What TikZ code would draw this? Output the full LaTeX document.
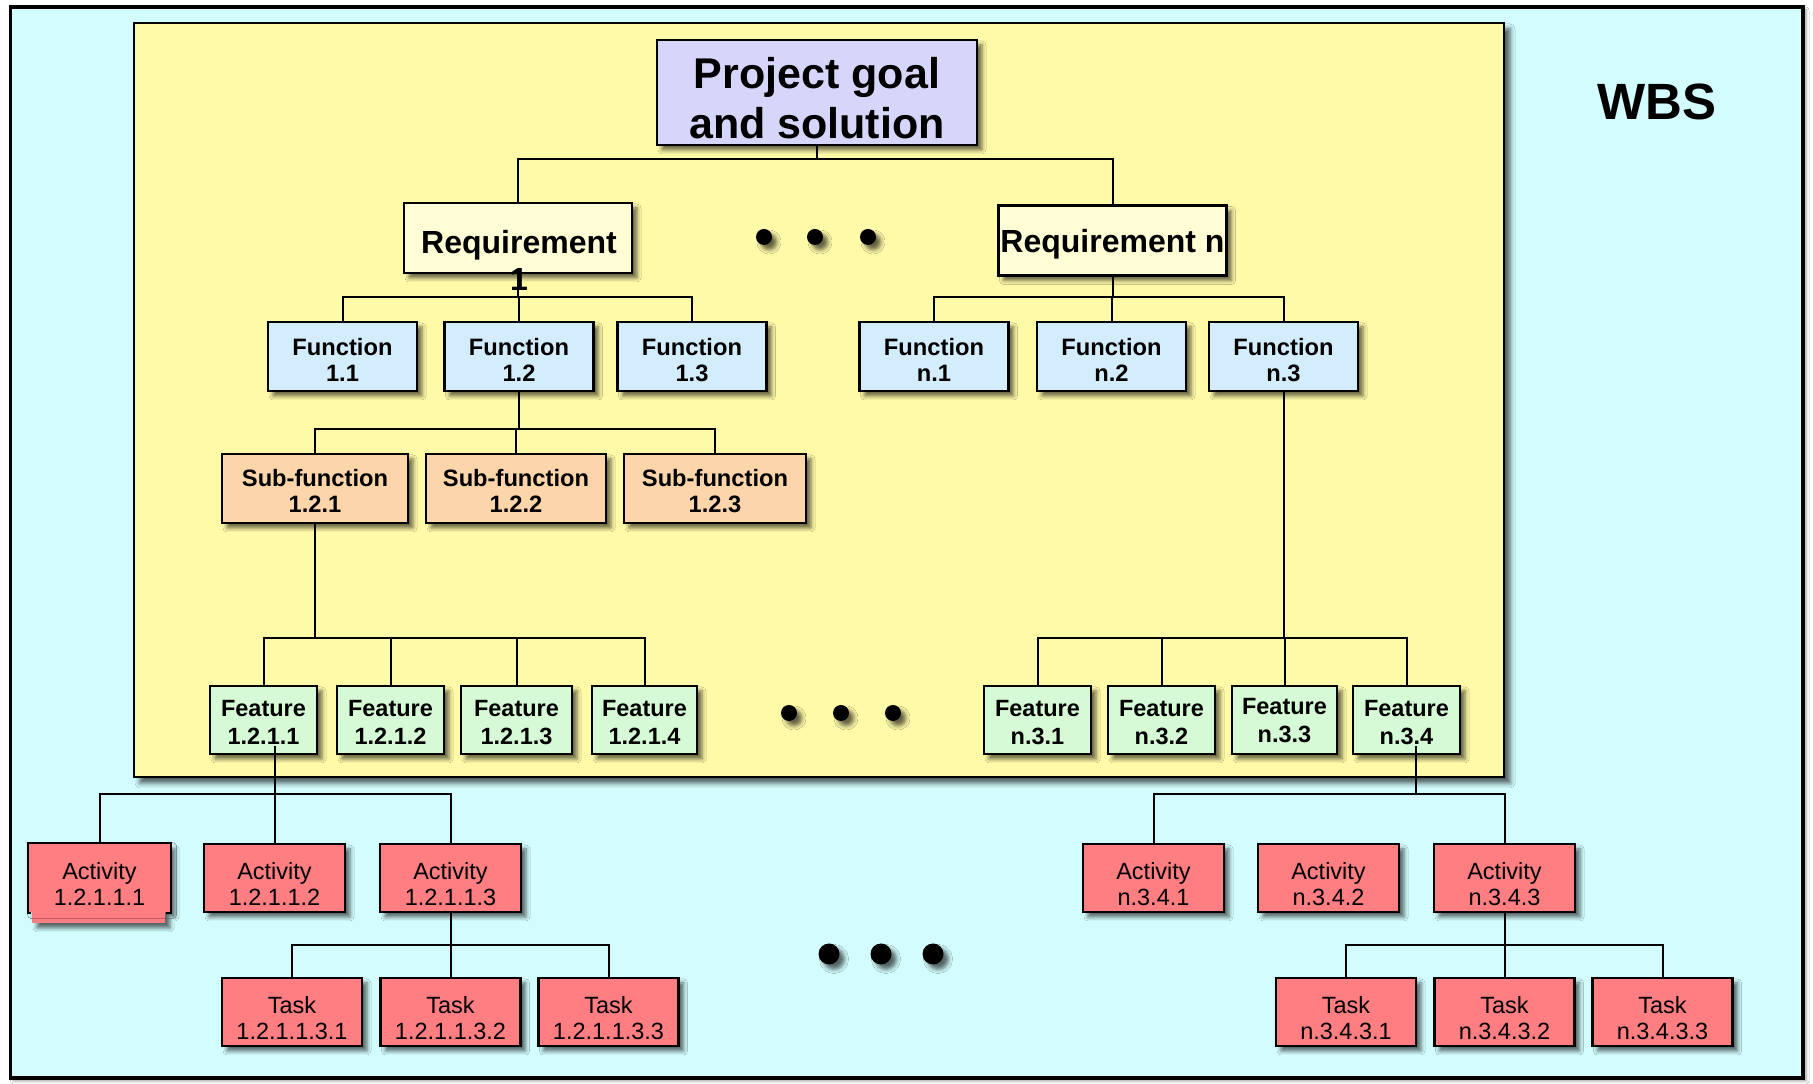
\documentclass[tikz,border=0pt]{standalone}
\usepackage{fontspec}
\setmainfont{Liberation Sans}
\usetikzlibrary{shadows.blur}

\definecolor{outerbg}{RGB}{210,252,253}
\definecolor{yellowbg}{RGB}{255,250,168}
\definecolor{goalfill}{RGB}{214,214,250}
\definecolor{reqfill}{RGB}{255,253,214}
\definecolor{funcfill}{RGB}{212,237,252}
\definecolor{subfill}{RGB}{253,213,170}
\definecolor{featfill}{RGB}{214,250,214}
\definecolor{actfill}{RGB}{255,126,130}

% invisible strut that raises the top of a first line
\newcommand\topstrut[1]{\rule{0pt}{#1}}

\tikzset{
  conn/.style={draw=black, line width=2pt},
  softshadow/.style={blur shadow={shadow xshift=5pt, shadow yshift=-5pt,
      shadow blur radius=4pt, shadow opacity=60}},
  wbox/.style={draw=black, line width=2.4pt, inner sep=0pt, align=center, softshadow},
  boldtext/.style={font=\bfseries\fontsize{23.7}{26}\selectfont},
  goalbox/.style={wbox, fill=goalfill, minimum width=320pt, minimum height=105pt,
      font=\bfseries\fontsize{43}{50}\selectfont},
  reqbox/.style={wbox, fill=reqfill, minimum width=228pt, minimum height=70pt,
      font=\bfseries\fontsize{32}{37}\selectfont},
  funcbox/.style={wbox, fill=funcfill, minimum width=149pt, minimum height=69pt, boldtext},
  subbox/.style={wbox, fill=subfill, minimum height=69pt, boldtext},
  featbox/.style={wbox, fill=featfill, minimum width=107pt, minimum height=68pt,
      font=\bfseries\fontsize{23.5}{28}\selectfont},
  actbox/.style={wbox, fill=actfill, minimum width=141pt, minimum height=68pt,
      font=\fontsize{23.5}{26}\selectfont},
  taskbox/.style={actbox, minimum width=140pt},
  ellipsisdot/.style={circle, fill=black, inner sep=0pt, softshadow},
}

\begin{document}
\begin{tikzpicture}[x=1pt,y=1pt]
\useasboundingbox (0,0) rectangle (1813,1084);
\fill[white] (0,0) rectangle (1813,1084);

% outer frame and the inner (requirements) frame
\path[fill=outerbg, draw=black, line width=3.5pt,
      blur shadow={shadow xshift=3pt, shadow yshift=-3pt, shadow blur radius=3pt, shadow opacity=40}]
  (10.5,6) rectangle (1803,1077);
\path[fill=yellowbg, draw=black, line width=2.6pt,
      blur shadow={shadow xshift=6pt, shadow yshift=-6pt, shadow blur radius=5pt, shadow opacity=65}]
  (134,307) rectangle (1504,1061);

\node[font=\bfseries\fontsize{51}{60}\selectfont] (wbs) at (1657,982) {WBS};

% level 0
\node[goalbox] (goal) at (817,991.5) {\topstrut{43pt}Project goal\\and solution};

% level 1
\node[reqbox] (req1) at (518,846) {};
\node[font=\bfseries\fontsize{32}{37}\selectfont, align=center, inner sep=0pt]
  (req1txt) at (519,823.5) {Requirement\\1};
\node[reqbox, text depth=0pt] (reqn) at (1112.5,843.5) {Requirement n};

% level 2
\node[funcbox] (fun11) at (342.5,727.5) {\topstrut{24pt}Function\\1.1};
\node[funcbox] (fun12) at (519,727.5) {\topstrut{24pt}Function\\1.2};
\node[funcbox] (fun13) at (692,727.5) {\topstrut{24pt}Function\\1.3};
\node[funcbox] (funn1) at (934,727.5) {\topstrut{24pt}Function\\n.1};
\node[funcbox] (funn2) at (1111.5,727.5) {\topstrut{24pt}Function\\n.2};
\node[funcbox] (funn3) at (1283.5,727.5) {\topstrut{24pt}Function\\n.3};

% level 3
\node[subbox, minimum width=186pt] (s121) at (315,595.5) {\topstrut{22pt}Sub-function\\1.2.1};
\node[subbox, minimum width=180pt] (s122) at (516,595.5) {\topstrut{22pt}Sub-function\\1.2.2};
\node[subbox, minimum width=182pt] (s123) at (715,595.5) {\topstrut{22pt}Sub-function\\1.2.3};

% level 4
\node[featbox] (ft1) at (263.5,364) {\topstrut{22pt}Feature\\1.2.1.1};
\node[featbox] (ft2) at (390.5,364) {\topstrut{22pt}Feature\\1.2.1.2};
\node[featbox, minimum width=111pt] (ft3) at (516.5,364) {\topstrut{22pt}Feature\\1.2.1.3};
\node[featbox, minimum width=105pt] (ft4) at (644.5,364) {\topstrut{22pt}Feature\\1.2.1.4};
\node[featbox] (ftn1) at (1037.5,364) {\topstrut{22pt}Feature\\n.3.1};
\node[featbox] (ftn2) at (1161.5,364) {\topstrut{22pt}Feature\\n.3.2};
\node[featbox, minimum width=105pt] (ftn3) at (1284.5,364) {\topstrut{18pt}Feature\\n.3.3};
\node[featbox] (ftn4) at (1406.5,364) {\topstrut{22pt}Feature\\n.3.4};

% level 5: the first activity box has an extended fill below its frame
\path[fill=actfill, softshadow]
  (29,240) -- (170,240) -- (170,172) -- (165,172) -- (165,161)
  -- (32,161) -- (32,172) -- (29,172) -- cycle;
\node[actbox, draw=none, blur shadow={shadow opacity=0}] (act1) at (99.5,206) {\topstrut{29pt}Activity\\1.2.1.1.1};
\draw[line width=2.4pt] ([xshift=3pt]act1.south west) -- (act1.south west) -- (act1.north west)
  -- (act1.north east) -- (act1.south east) -- ([xshift=-5pt]act1.south east);
\node[actbox] (act2) at (274.5,206) {\topstrut{29pt}Activity\\1.2.1.1.2};
\node[actbox] (act3) at (450.5,206) {\topstrut{29pt}Activity\\1.2.1.1.3};
\node[actbox] (actn1) at (1153.5,206) {\topstrut{29pt}Activity\\n.3.4.1};
\node[actbox] (actn2) at (1328.5,206) {\topstrut{29pt}Activity\\n.3.4.2};
\node[actbox] (actn3) at (1504.5,206) {\topstrut{29pt}Activity\\n.3.4.3};

% level 6
\node[taskbox] (t1) at (292,72) {\topstrut{29pt}Task\\1.2.1.1.3.1};
\node[taskbox] (t2) at (450.5,72) {\topstrut{29pt}Task\\1.2.1.1.3.2};
\node[taskbox] (t3) at (608.5,72) {\topstrut{29pt}Task\\1.2.1.1.3.3};
\node[taskbox] (tn1) at (1346,72) {\topstrut{29pt}Task\\n.3.4.3.1};
\node[taskbox] (tn2) at (1504.5,72) {\topstrut{29pt}Task\\n.3.4.3.2};
\node[taskbox] (tn3) at (1662.5,72) {\topstrut{29pt}Task\\n.3.4.3.3};

% ellipses
\foreach \px/\nm in {764/a,815/b,868/c}
  \node[ellipsisdot, minimum size=16pt] (dtop\nm) at (\px,847) {};
\foreach \px/\nm in {789/a,841/b,893/c}
  \node[ellipsisdot, minimum size=16pt] (dmid\nm) at (\px,371) {};
\foreach \px/\nm in {829/a,881/b,933/c}
  \node[ellipsisdot, minimum size=21pt] (dlow\nm) at (\px,130) {};

% bus heights
\coordinate (b1) at (0,925);
\coordinate (b2) at (0,787);
\coordinate (b3) at (0,655);
\coordinate (b4) at (0,446);
\coordinate (b5) at (0,290);
\coordinate (b6) at (0,139);

% goal -> requirements
\draw[conn] (goal.south) -- (goal.south |- b1);
\draw[conn] (req1.north) -- (req1.north |- b1) -- (reqn.north |- b1) -- (reqn.north);

% requirements -> functions
\draw[conn] (req1.south) -- (req1.south |- b2);
\draw[conn] (fun11.north) -- (fun11.north |- b2) -- (fun13.north |- b2) -- (fun13.north);
\draw[conn] (fun12.north) -- (fun12.north |- b2);
\draw[conn] (reqn.south) -- (reqn.south |- b2);
\draw[conn] (funn1.north) -- (funn1.north |- b2) -- (funn3.north |- b2) -- (funn3.north);
\draw[conn] (funn2.north) -- (funn2.north |- b2);

% function 1.2 -> sub-functions
\draw[conn] (fun12.south) -- (fun12.south |- b3);
\draw[conn] (s121.north) -- (s121.north |- b3) -- (s123.north |- b3) -- (s123.north);
\draw[conn] (s122.north) -- (s122.north |- b3);

% sub-function 1.2.1 and function n.3 -> features
\draw[conn] (s121.south) -- (s121.south |- b4);
\draw[conn] (ft1.north) -- (ft1.north |- b4) -- (ft4.north |- b4) -- (ft4.north);
\draw[conn] (ft2.north) -- (ft2.north |- b4);
\draw[conn] (ft3.north) -- (ft3.north |- b4);
\draw[conn] (funn3.south) -- (funn3.south |- b4);
\draw[conn] (ftn1.north) -- (ftn1.north |- b4) -- (ftn4.north |- b4) -- (ftn4.north);
\draw[conn] (ftn2.north) -- (ftn2.north |- b4);
\draw[conn] (ftn3.north) -- (ftn3.north |- b4);

% features -> activities
\coordinate (tapL0) at (act2.north |- ft1.south);
\coordinate (tapL) at ([yshift=9pt]tapL0);
\draw[conn] (tapL) -- (act2.north);
\draw[conn] (act1.north) -- (act1.north |- b5) -- (act3.north |- b5) -- (act3.north);
\coordinate (tapR) at ([xshift=9.5pt,yshift=9pt]ftn4.south);
\draw[conn] (tapR) -- (tapR |- b5);
\draw[conn] (actn1.north) -- (actn1.north |- b5) -- (actn3.north |- b5) -- (actn3.north);

% activities -> tasks
\draw[conn] (act3.south) -- (act3.south |- b6);
\draw[conn] (t1.north) -- (t1.north |- b6) -- (t3.north |- b6) -- (t3.north);
\draw[conn] (t2.north) -- (t2.north |- b6);
\draw[conn] (actn3.south) -- (actn3.south |- b6);
\draw[conn] (tn1.north) -- (tn1.north |- b6) -- (tn3.north |- b6) -- (tn3.north);
\draw[conn] (tn2.north) -- (tn2.north |- b6);
\end{tikzpicture}
\end{document}
